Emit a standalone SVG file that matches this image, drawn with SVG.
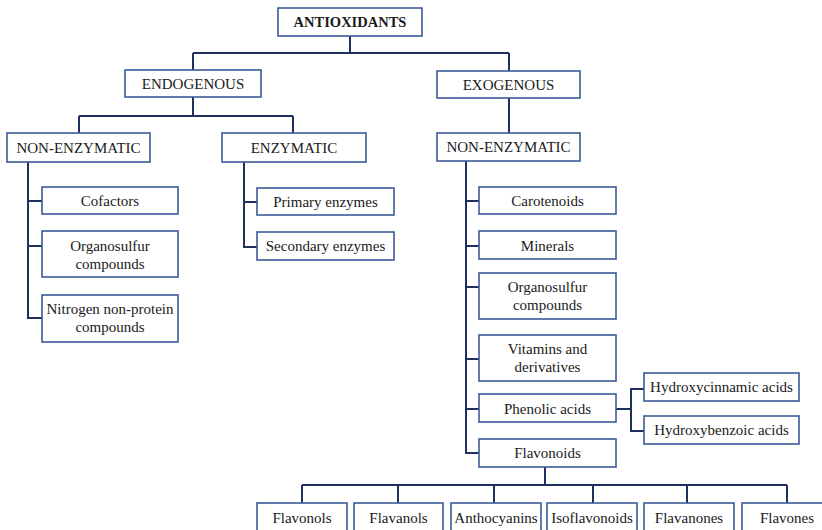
<svg xmlns="http://www.w3.org/2000/svg" width="822" height="530" viewBox="0 0 822 530">
<style>
.b{fill:#fff;stroke:#3b5b98;stroke-width:1.6}
.t{font-family:"Liberation Serif","Times New Roman",serif;font-size:15px;fill:#1a1a1a;text-anchor:middle;dominant-baseline:central}
.bold{font-weight:bold;font-size:14.5px}
.c{fill:none;stroke:#1f2f5f;stroke-width:2}
</style>
<rect width="822" height="530" fill="#fff"/>
<g id="connectors">
<path class="c" d="M350 36V53M193 53H509M193 53V70M509 53V71"/>
<path class="c" d="M193 97V116M79 116H293M79 116V133M293 116V133"/>
<path class="c" d="M509 98V133"/>
<path class="c" d="M28 162V318H42M28 201H42M28 246H42"/>
<path class="c" d="M244 162V247H257M244 202H257"/>
<path class="c" d="M466 161V453H479M466 201H479M466 246H479M466 287H479M466 359H479M466 409H479"/>
<path class="c" d="M616 409H631M644 389H631V431H644"/>
<path class="c" d="M545 467V485M302 485H787M302 485V503M398 485V503M494 485V503M593 485V503M687 485V503M787 485V503"/>
</g>
<g id="antioxidants"><rect class="b" x="278" y="8" width="144" height="28"/><text class="t bold" x="350" y="22">ANTIOXIDANTS</text></g>
<g id="endogenous"><rect class="b" x="125" y="70" width="136" height="27"/><text class="t" x="193" y="84">ENDOGENOUS</text></g>
<g id="exogenous"><rect class="b" x="437" y="71" width="143" height="27"/><text class="t" x="508.5" y="85">EXOGENOUS</text></g>
<g id="endo-nonenzymatic"><rect class="b" x="7" y="133" width="143" height="29"/><text class="t" x="78.5" y="148">NON-ENZYMATIC</text></g>
<g id="enzymatic"><rect class="b" x="222" y="133" width="144" height="29"/><text class="t" x="294" y="148">ENZYMATIC</text></g>
<g id="exo-nonenzymatic"><rect class="b" x="437" y="133" width="143" height="28"/><text class="t" x="508.5" y="147">NON-ENZYMATIC</text></g>
<g id="cofactors"><rect class="b" x="42" y="187" width="136" height="27"/><text class="t" x="110" y="201">Cofactors</text></g>
<g id="organosulfur-endo"><rect class="b" x="42" y="231" width="136" height="46"/><text class="t" x="110" y="246">Organosulfur</text><text class="t" x="110" y="264">compounds</text></g>
<g id="nitrogen"><rect class="b" x="42" y="295" width="136" height="47"/><text class="t" x="110" y="309">Nitrogen non-protein</text><text class="t" x="110" y="327">compounds</text></g>
<g id="primary"><rect class="b" x="257" y="188" width="137" height="27"/><text class="t" x="325.5" y="202">Primary enzymes</text></g>
<g id="secondary"><rect class="b" x="257" y="232" width="137" height="28"/><text class="t" x="325.5" y="246">Secondary enzymes</text></g>
<g id="carotenoids"><rect class="b" x="479" y="187" width="137" height="27"/><text class="t" x="547.5" y="201">Carotenoids</text></g>
<g id="minerals"><rect class="b" x="479" y="231" width="137" height="28"/><text class="t" x="547.5" y="245.5">Minerals</text></g>
<g id="organosulfur-exo"><rect class="b" x="479" y="273" width="137" height="46"/><text class="t" x="547.5" y="287">Organosulfur</text><text class="t" x="547.5" y="305">compounds</text></g>
<g id="vitamins"><rect class="b" x="479" y="335" width="137" height="46"/><text class="t" x="547.5" y="349">Vitamins and</text><text class="t" x="547.5" y="367">derivatives</text></g>
<g id="phenolic"><rect class="b" x="479" y="394" width="137" height="28"/><text class="t" x="547.5" y="408.5">Phenolic acids</text></g>
<g id="flavonoids"><rect class="b" x="479" y="439" width="137" height="28"/><text class="t" x="547.5" y="453">Flavonoids</text></g>
<g id="hydroxycinnamic"><rect class="b" x="644" y="373" width="155" height="28"/><text class="t" x="721.5" y="387">Hydroxycinnamic acids</text></g>
<g id="hydroxybenzoic"><rect class="b" x="644" y="416" width="155" height="28"/><text class="t" x="721.5" y="430">Hydroxybenzoic acids</text></g>
<g id="flavonols"><rect class="b" x="257" y="503" width="90" height="34"/><text class="t" x="302" y="518">Flavonols</text></g>
<g id="flavanols"><rect class="b" x="354" y="503" width="89" height="34"/><text class="t" x="398.5" y="518">Flavanols</text></g>
<g id="anthocyanins"><rect class="b" x="451" y="503" width="90" height="34"/><text class="t" x="496" y="518">Anthocyanins</text></g>
<g id="isoflavonoids"><rect class="b" x="547" y="503" width="90" height="34"/><text class="t" x="592" y="518">Isoflavonoids</text></g>
<g id="flavanones"><rect class="b" x="644" y="503" width="90" height="34"/><text class="t" x="689" y="518">Flavanones</text></g>
<g id="flavones"><rect class="b" x="742" y="503" width="90" height="34"/><text class="t" x="787" y="518">Flavones</text></g>
</svg>
